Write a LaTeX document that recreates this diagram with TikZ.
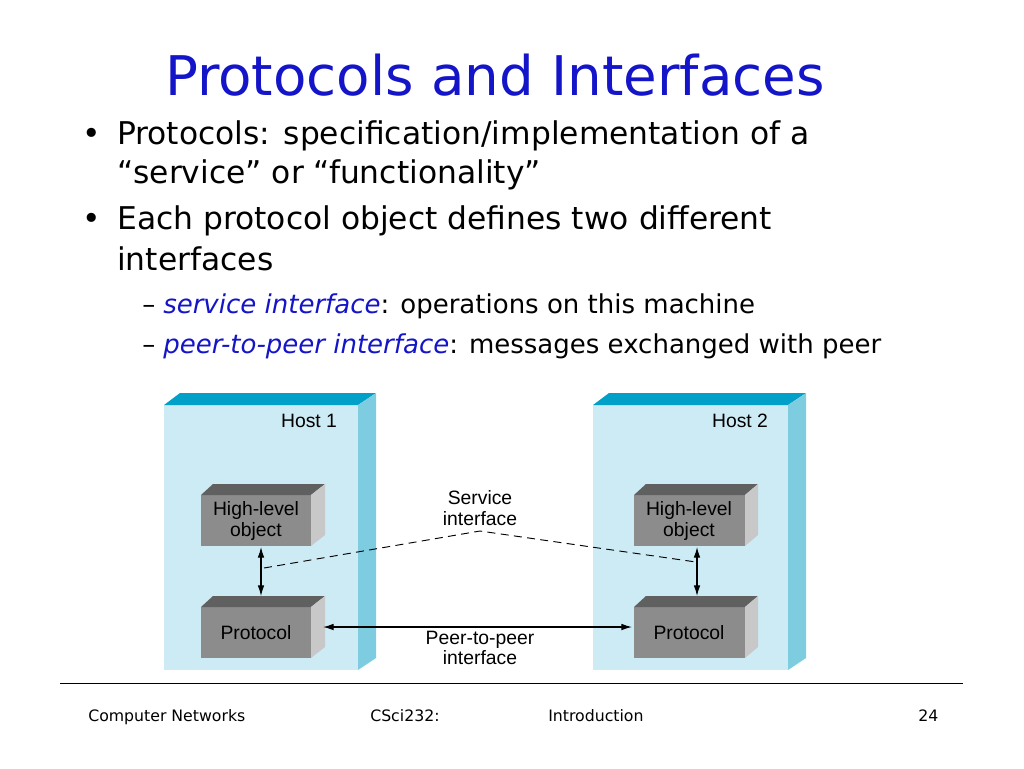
\documentclass[tikz,border=0pt]{standalone}
\usepackage{fontspec}
\setmainfont{DejaVu Sans}
\newfontfamily\lab{Liberation Sans}
\usetikzlibrary{arrows.meta}
\definecolor{tblue}{RGB}{20,20,200}
\definecolor{htop}{RGB}{0,160,200}
\definecolor{hside}{RGB}{125,204,224}
\definecolor{hfront}{RGB}{205,235,245}
\definecolor{btop}{RGB}{96,96,96}
\definecolor{bfront}{RGB}{140,140,140}
\definecolor{bside}{RGB}{200,200,200}
\begin{document}
\begin{tikzpicture}[x=0.75pt,y=-0.75pt,
  lbl/.style={font=\lab\fontsize{14.5}{15.5}\selectfont,align=center,inner sep=0},
  btxt/.style={anchor=base west,inner sep=0,font=\fontsize{23.5}{28}\selectfont},
  stxt/.style={anchor=base west,inner sep=0,font=\fontsize{19.5}{23}\selectfont},
  ftxt/.style={anchor=base west,inner sep=0,font=\fontsize{11.8}{14}\selectfont},
  arr/.style={{Latex[length=8pt,width=5pt]}-{Latex[length=8pt,width=5pt]},line width=0.9pt}]
\useasboundingbox (0,0) rectangle (1024,768);
% hosts
\foreach \a/\b/\c in {164/358/376, 593/788/806}{
  \fill[hfront] (\a,405) rectangle (\b,670);
  \fill[htop] (\a,405) -- (\a+16,393) -- (\c,393) -- (\b,405) -- cycle;
  \fill[hside] (\b,405) -- (\c,393) -- (\c,658) -- (\b,670) -- cycle;
}
% boxes
\foreach \a/\b/\c/\t in {201/311/325/484, 201/311/325/596, 634/745/758/484, 634/745/758/596}{
  \fill[bfront] (\a,\t+11) rectangle (\b,\t+62);
  \fill[btop] (\a,\t+11) -- (\a+12,\t) -- (\c,\t) -- (\b,\t+11) -- cycle;
  \fill[bside] (\b,\t+11) -- (\c,\t) -- (\c,\t+51) -- (\b,\t+62) -- cycle;
}
\node[lbl] (h1) at (309,421) {Host 1};
\node[lbl] (h2) at (740,421) {Host 2};
\node[lbl,minimum width=110/0.75,minimum height=51/0.75] (o1) at (256,521) {High-level\\object};
\node[lbl,minimum width=110/0.75,minimum height=51/0.75] (p1) at (256,633) {Protocol};
\node[lbl,minimum width=111/0.75,minimum height=51/0.75] (o2) at (689,521) {High-level\\object};
\node[lbl,minimum width=111/0.75,minimum height=51/0.75] (p2) at (689,633) {Protocol};
\node[lbl] (si) at (480,508) {Service\\interface};
\node[lbl] (pi) at (480,648) {Peer-to-peer\\interface};
\coordinate (a1t) at (261,547); \coordinate (a1b) at (261,596);
\coordinate (a2t) at (697,547); \coordinate (a2b) at (697,596);
\coordinate (hl) at (323,627); \coordinate (hr) at (632,627);
\draw[arr] (a1t) -- (a1b);
\draw[arr] (a2t) -- (a2b);
\draw[arr] (hl) -- (hr);
\coordinate (d1) at (264,568); \coordinate (d2) at (480,531); \coordinate (d3) at (696,562);
\draw[line width=0.7pt,dash pattern=on 6pt off 4pt] (d1) -- (d2) -- (d3);
% text
\node[inner sep=0,text=tblue,font=\fontsize{41}{46}\selectfont] (t) at (495,75) {Protocols and Interfaces};
\node[btxt] (b1) at (82,144) {•};
\node[btxt] (l1) at (117,144) {Protocols: specification/implementation of a};
\node[btxt] (l2) at (117,183) {“service” or “functionality”};
\node[btxt] (b2) at (82,229) {•};
\node[btxt] (l3) at (117,229) {Each protocol object defines two different};
\node[btxt] (l4) at (117,270) {interfaces};
\node[stxt] (d4) at (142,313) {–};
\node[stxt] (s1) at (163,313) {\textcolor{tblue}{\itshape service interface}: operations on this machine};
\node[stxt] (d5) at (142,353) {–};
\node[stxt] (s2) at (163,353) {\textcolor{tblue}{\itshape peer-to-peer interface}: messages exchanged with peer};
\draw[thin] (60,683) coordinate (f1) -- (963,683) coordinate (f2);
\node[ftxt] (c1) at (88,721) {Computer Networks};
\node[ftxt] (c2) at (370,721) {CSci232:};
\node[ftxt] (c3) at (548,721) {Introduction};
\node[ftxt] (c4) at (918,721) {24};
\end{tikzpicture}
\end{document}
